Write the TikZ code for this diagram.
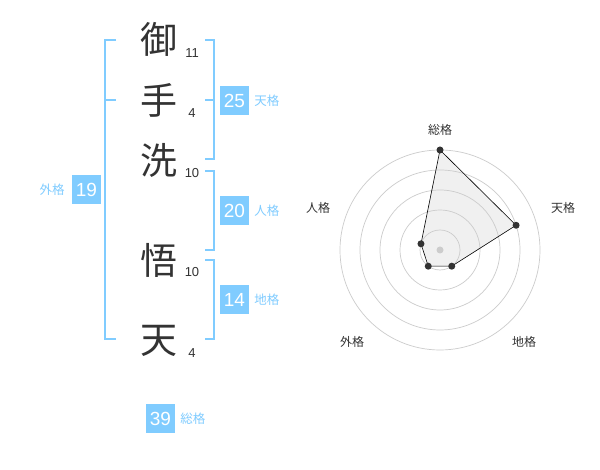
\documentclass[tikz,border=0pt]{standalone}
\usepackage{fontspec}
\setmainfont{Liberation Sans}
\newfontfamily\cjk{Noto Sans CJK JP}
\usetikzlibrary{positioning}
\definecolor{sky}{HTML}{80CCFF}
\definecolor{ink}{HTML}{333333}
\definecolor{ring}{HTML}{CCCCCC}
\definecolor{area}{HTML}{F0F0F0}

\begin{document}
\begin{tikzpicture}[x=1pt,y=1pt,
    kanji/.style={font=\cjk\fontsize{37}{37}\selectfont,text=ink,inner sep=0pt},
    strokes/.style={font=\fontsize{13}{13}\selectfont,text=ink,inner sep=0pt},
    scorebox/.style={fill=sky,text=white,minimum size=29pt,inner sep=0pt,
      font=\fontsize{19}{19}\selectfont},
    kaku/.style={font=\cjk\fontsize{12.5}{12.5}\selectfont,text=sky,inner sep=0pt},
    bracket/.style={sky,line width=2pt},
    axislabel/.style={font=\cjk\fontsize{12}{12}\selectfont,text=ink,inner sep=0pt}]
    \fill[white] (0,0) rectangle (600,470);
    \useasboundingbox (0,0) rectangle (600,470);

    %name and stroke counts
    \foreach \c/\y/\n/\ny [count=\i] in {御/431/11/417.3,手/370/4/357,洗/310/10/297.3,
                                         悟/210/10/198.3,天/129/4/117} {
      \node[kanji] (k\i) at (159,\y) {\c};
      \node[strokes] (s\i) at (192,\ny) {\n};
    }

    %marking brackets
    \draw[bracket] (116,430) -- (105,430) -- (105,131) -- (116,131);
    \draw[bracket] (105,370) -- (116,370);
    \draw[bracket] (205,430) -- (214,430) -- (214,310.7) -- (205,310.7);
    \draw[bracket] (205,370) -- (214,370);
    \draw[bracket] (205,299.3) -- (214,299.3) -- (214,220) -- (205,220);
    \draw[bracket] (205,210) -- (214,210) -- (214,130.7) -- (205,130.7);

    %scores
    \node[scorebox] (tenbox) at (234.5,369.5) {25};
    \node[kaku,right=5pt of tenbox] (tenlabel) {天格};
    \node[scorebox] (jinbox) at (234.5,259.5) {20};
    \node[kaku,right=5pt of jinbox] (jinlabel) {人格};
    \node[scorebox] (chibox) at (234.5,170) {14};
    \node[kaku,right=5pt of chibox] (chilabel) {地格};
    \node[scorebox] (gaibox) at (86.5,280) {19};
    \node[kaku,left=7pt of gaibox] (gailabel) {外格};
    \node[scorebox] (soubox) at (160.5,51) {39};
    \node[kaku,right=5pt of soubox] (soulabel) {総格};

    \begin{scope}[shift={(440,220)}]
      \def\angles{{90,18,-54,-126,162}}
      \def\radii{{100,80,20,20,20}}
      \foreach \i in {0,...,4} {
        \pgfmathsetmacro{\a}{\angles[\i]}
        \pgfmathsetmacro{\rr}{\radii[\i]}
        \coordinate (p\i) at (\a:\rr);
      }
      \fill[area] (p0) -- (p1) -- (p2) -- (p3) -- (p4) -- cycle;

      \foreach \r in {20,40,...,100} {
        \draw[ring,line width=0.7pt] (0,0) circle (\r);
      }
      \fill[ring] (0,0) circle (3.5);

      \draw[black,line width=0.6pt]
        (p0) -- (p1) -- (p2) -- (p3) -- (p4) -- cycle;
      \foreach \i in {0,...,4} {
        \fill[ink] (p\i) circle (3.5);
      }

      \node[axislabel] (sou) at (0,120) {総格};
      \node[axislabel] (ten) at (123,42) {天格};
      \node[axislabel] (jin) at (-122,42) {人格};
      \node[axislabel] (gai) at (-88,-92) {外格};
      \node[axislabel] (chi) at (84,-92) {地格};
    \end{scope}
\end{tikzpicture}
\end{document}
